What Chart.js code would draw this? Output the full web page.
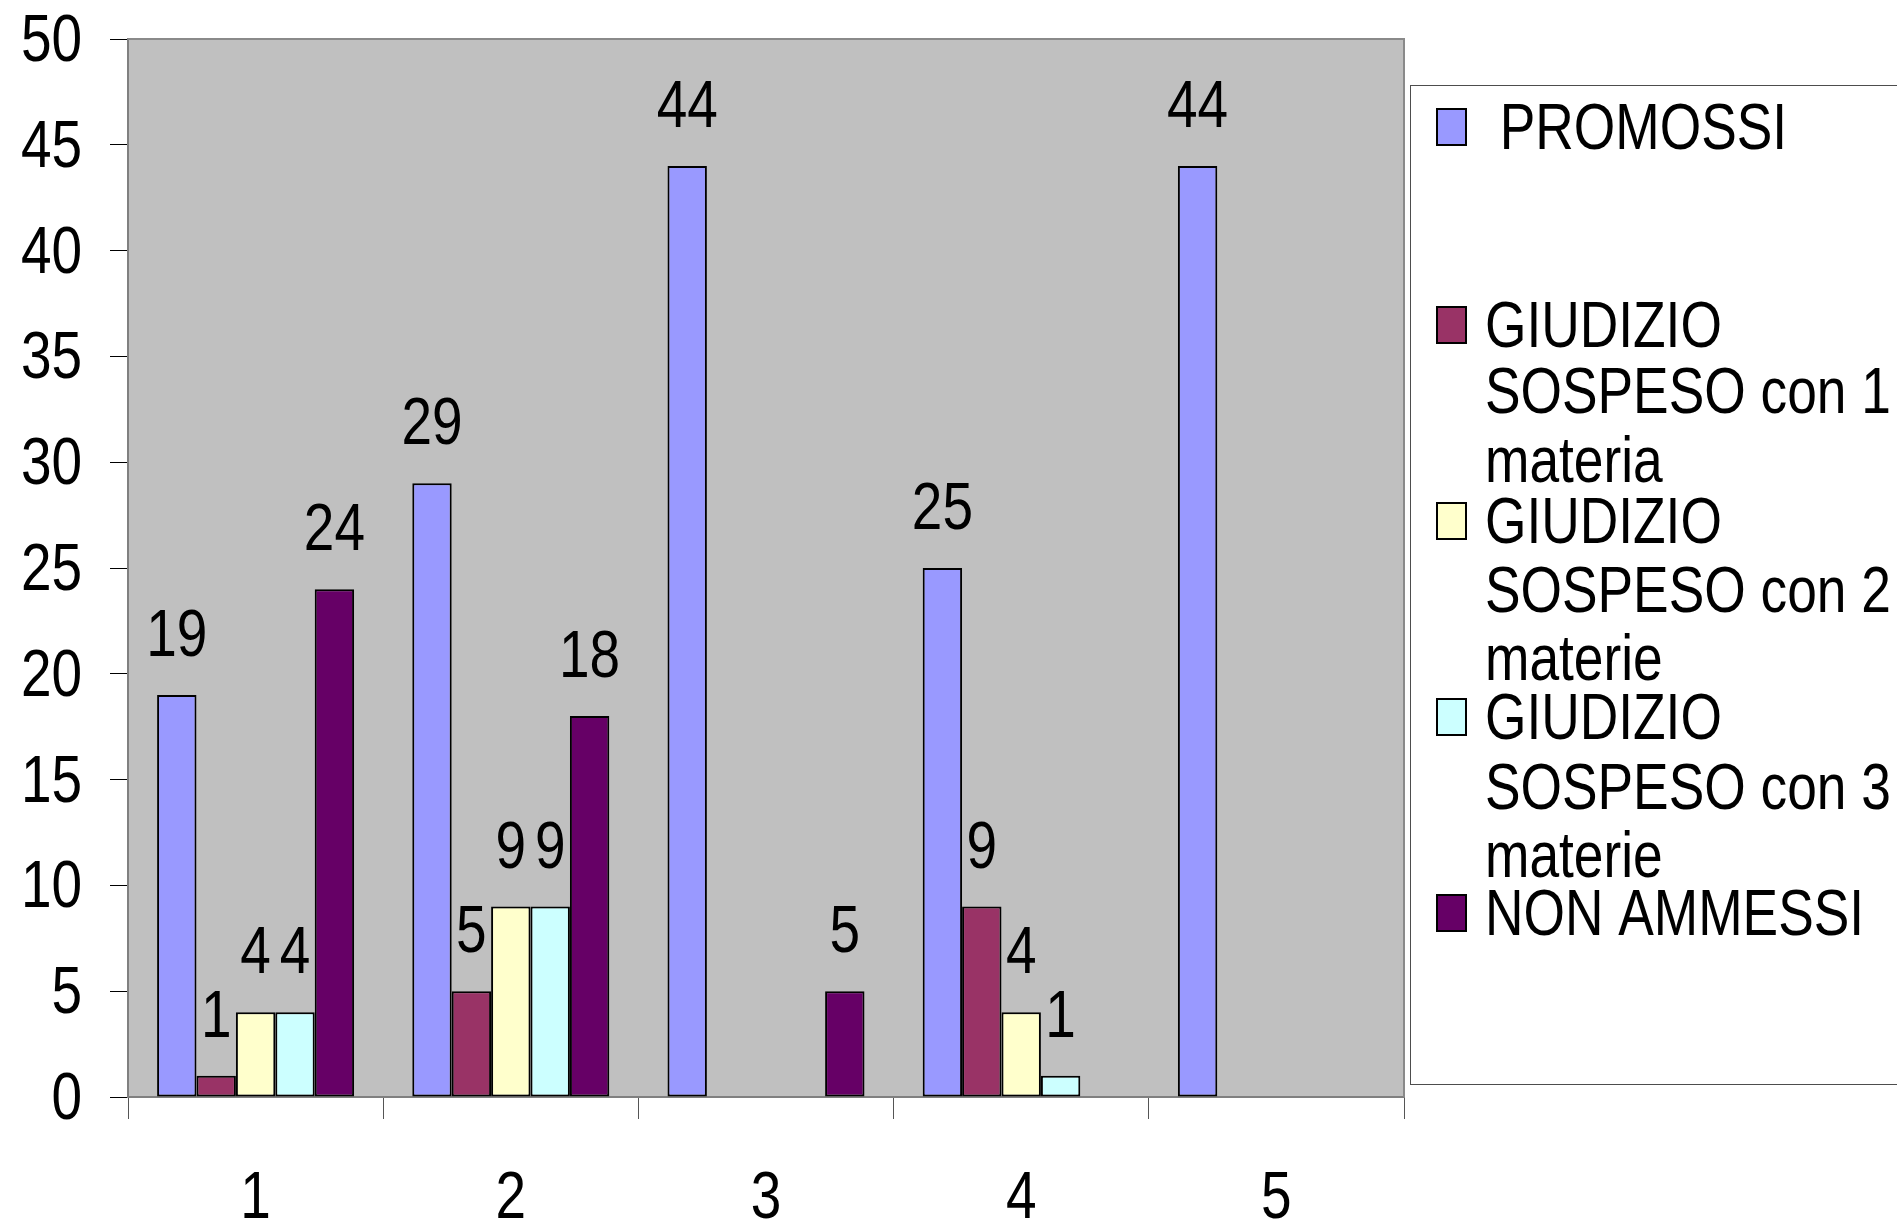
<!DOCTYPE html>
<html><head><meta charset="utf-8">
<script src="https://cdn.jsdelivr.net/npm/chart.js@4.4.0/dist/chart.umd.min.js"></script>
<style>html,body{margin:0;padding:0;background:#fff;overflow:hidden}#wrap{width:1897px;height:1224px;position:relative}</style>
</head><body><div id="wrap"><canvas id="c" width="1897" height="1224"></canvas></div>
<script>
// ---- data ----
const categories = ['1', '2', '3', '4', '5'];
const promossi   = [19, 29, 44, 25, 44];
const giudizio1  = [1, 5, 0, 9, 0];
const giudizio2  = [4, 9, 0, 4, 0];
const giudizio3  = [4, 9, 0, 1, 0];
const nonAmmessi = [24, 18, 5, 0, 0];
const yTicks = [0, 5, 10, 15, 20, 25, 30, 35, 40, 45, 50];
const seriesNames = [' PROMOSSI', 'GIUDIZIO SOSPESO con 1 materia', 'GIUDIZIO SOSPESO con 2 materie', 'GIUDIZIO SOSPESO con 3 materie', 'NON AMMESSI'];
const legendLines = [[' PROMOSSI'], ['GIUDIZIO', 'SOSPESO con 1', 'materia'], ['GIUDIZIO', 'SOSPESO con 2', 'materie'], ['GIUDIZIO', 'SOSPESO con 3', 'materie'], ['NON AMMESSI']];

const colors = ['#9999FF', '#993366', '#FFFFCC', '#CCFFFF', '#660066'];
const FONT = "'Liberation Sans',Arial,sans-serif";
const NARROW = 0.82;
const seriesValues = [promossi, giudizio1, giudizio2, giudizio3, nonAmmessi];

function narrowText(ctx, text, x, y, align) {
  ctx.save();
  ctx.translate(x, y);
  ctx.scale(NARROW, 1);
  ctx.textAlign = align;
  ctx.textBaseline = 'alphabetic';
  ctx.fillText(text, 0, 0);
  ctx.restore();
}

const plotFrame = {
  id: 'plotFrame',
  beforeDraw(chart) {
    const {ctx, chartArea: a} = chart;
    ctx.save();
    ctx.fillStyle = '#C0C0C0';
    ctx.fillRect(a.left, a.top, a.right - a.left, a.bottom - a.top);
    ctx.restore();
  },
  beforeDatasetsDraw(chart) {
    const {ctx, chartArea: a} = chart;
    ctx.save();
    ctx.strokeStyle = '#8a8a8a';
    ctx.lineWidth = 2;
    ctx.beginPath();
    ctx.moveTo(a.left, a.top);
    ctx.lineTo(a.right, a.top);
    ctx.lineTo(a.right, a.bottom);
    ctx.stroke();
    ctx.restore();
  }
};

const axisLabels = {
  id: 'axisLabels',
  afterDraw(chart) {
    const {ctx} = chart;
    const xs = chart.scales.x, ys = chart.scales.y;
    ctx.save();
    ctx.font = '67px ' + FONT;
    ctx.fillStyle = '#000';
    ys.ticks.forEach((t, i) => {
      narrowText(ctx, String(t.value), 82, ys.getPixelForTick(i) + 22, 'right');
    });
    xs.ticks.forEach((t, i) => {
      narrowText(ctx, xs.getLabelForValue(t.value), xs.getPixelForTick(i), 1218, 'center');
    });
    ctx.restore();
  }
};

const valueLabels = {
  id: 'valueLabels',
  afterDatasetsDraw(chart) {
    const {ctx} = chart;
    ctx.save();
    ctx.font = '67px ' + FONT;
    ctx.fillStyle = '#000';
    chart.data.datasets.forEach((ds, i) => {
      const meta = chart.getDatasetMeta(i);
      meta.data.forEach((el, j) => {
        const v = ds.data[j];
        if (v > 0) narrowText(ctx, String(v), el.x, el.y - 39, 'center');
      });
    });
    ctx.restore();
  }
};

const boxLegend = {
  id: 'boxLegend',
  afterDraw(chart) {
    const {ctx} = chart;
    const baselines = [[149], [347, 413, 482], [543, 612, 680], [739, 809, 877], [935]];
    ctx.save();
    ctx.fillStyle = '#fff';
    ctx.fillRect(1410, 85, 500, 1000);
    ctx.strokeStyle = '#4d4d4d';
    ctx.lineWidth = 1;
    ctx.strokeRect(1410.5, 85.5, 520, 999);
    ctx.font = '65px ' + FONT;
    legendLines.forEach((lines, i) => {
      const b = baselines[i];
      const top = b[0] - 41;
      ctx.fillStyle = colors[i];
      ctx.fillRect(1436, top, 31, 38);
      ctx.strokeStyle = '#000';
      ctx.lineWidth = 2;
      ctx.strokeRect(1437, top + 1, 29, 36);
      ctx.fillStyle = '#000';
      lines.forEach((t, k) => narrowText(ctx, t, 1485, b[k], 'left'));
    });
    ctx.restore();
  }
};

new Chart(document.getElementById('c'), {
  type: 'bar',
  data: {
    labels: categories,
    datasets: seriesValues.map((vals, i) => ({
      label: seriesNames[i],
      data: vals,
      backgroundColor: colors[i],
      borderColor: '#000',
      borderWidth: 2,
      borderSkipped: false,
      categoryPercentage: 0.772,
      barPercentage: 1.0
    }))
  },
  options: {
    responsive: false,
    maintainAspectRatio: false,
    animation: false,
    devicePixelRatio: 1,
    layout: {padding: {top: 39, right: 493, left: 0, bottom: 0}},
    plugins: {legend: {display: false}, tooltip: {enabled: false}},
    scales: {
      x: {
        position: 'bottom',
        afterFit(s) { s.height = 127; },
        grid: {display: true, drawOnChartArea: false, drawTicks: true, tickLength: 22, color: '#555', lineWidth: 1, offset: true},
        border: {display: true, color: '#808080', width: 2},
        ticks: {font: {family: FONT, size: 67, lineHeight: 0.1}, color: 'rgba(0,0,0,0)', padding: 36, maxRotation: 0, autoSkip: false}
      },
      y: {
        min: 0, max: 50,
        position: 'left',
        afterFit(s) { s.width = 128; },
        afterBuildTicks(s) { s.ticks = yTicks.map(v => ({value: v})); },
        grid: {display: true, drawOnChartArea: false, drawTicks: true, tickLength: 18, color: '#000', lineWidth: 1},
        border: {display: true, color: '#808080', width: 2},
        ticks: {font: {family: FONT, size: 67, lineHeight: 0.1}, color: 'rgba(0,0,0,0)', padding: 28}
      }
    }
  },
  plugins: [plotFrame, valueLabels, axisLabels, boxLegend]
});
</script>
</body></html>
